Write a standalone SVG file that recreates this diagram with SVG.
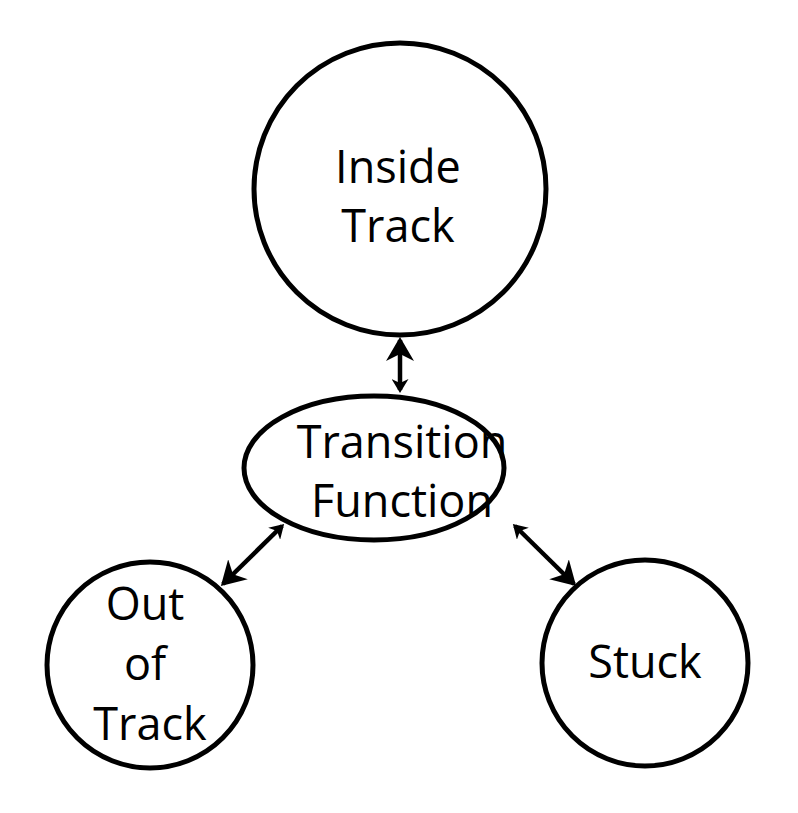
<svg xmlns="http://www.w3.org/2000/svg" width="798" height="813" viewBox="0 0 798 813">
<defs>
<style>
.node{fill:#fff;stroke:#000;stroke-width:5}
.lbl{font-family:"Open Sans","Noto Sans",sans-serif;font-size:45px;fill:#000;text-anchor:middle}
.conn{stroke:#000;stroke-width:4.5;fill:none}
</style>
<marker id="big" viewBox="0 0 24 28" refX="21" refY="14" markerWidth="24" markerHeight="28" orient="auto-start-reverse" markerUnits="userSpaceOnUse">
<path d="M0,0 L24,14 L0,28 L7,14 Z" fill="#000"/>
</marker>
<marker id="small" viewBox="0 0 14 17" refX="11" refY="8.5" markerWidth="14" markerHeight="17" orient="auto-start-reverse" markerUnits="userSpaceOnUse">
<path d="M0,0 L14,8.5 L0,17 L4,8.5 Z" fill="#000"/>
</marker>
</defs>
<rect width="798" height="813" fill="#fff"/>
<g id="connectors">
<line class="conn" x1="400" y1="390" x2="400" y2="340" marker-start="url(#small)" marker-end="url(#big)"/>
<line class="conn" x1="282" y1="526" x2="223" y2="584" marker-start="url(#small)" marker-end="url(#big)"/>
<line class="conn" x1="515" y1="526" x2="574" y2="584" marker-start="url(#small)" marker-end="url(#big)"/>
</g>
<g id="inside-track">
<circle class="node" cx="400" cy="189" r="146"/>
<text class="lbl" x="398" y="183">Inside</text>
<text class="lbl" x="398" y="242">Track</text>
</g>
<g id="transition-function">
<ellipse class="node" cx="374" cy="468" rx="130" ry="72"/>
<text class="lbl" x="402" y="458">Transition</text>
<text class="lbl" x="402" y="517">Function</text>
</g>
<g id="out-of-track">
<circle class="node" cx="150" cy="665" r="103"/>
<text class="lbl" x="145" y="620">Out</text>
<text class="lbl" x="145" y="680">of</text>
<text class="lbl" x="150" y="740">Track</text>
</g>
<g id="stuck">
<circle class="node" cx="645" cy="663" r="103"/>
<text class="lbl" x="645" y="678">Stuck</text>
</g>
</svg>
